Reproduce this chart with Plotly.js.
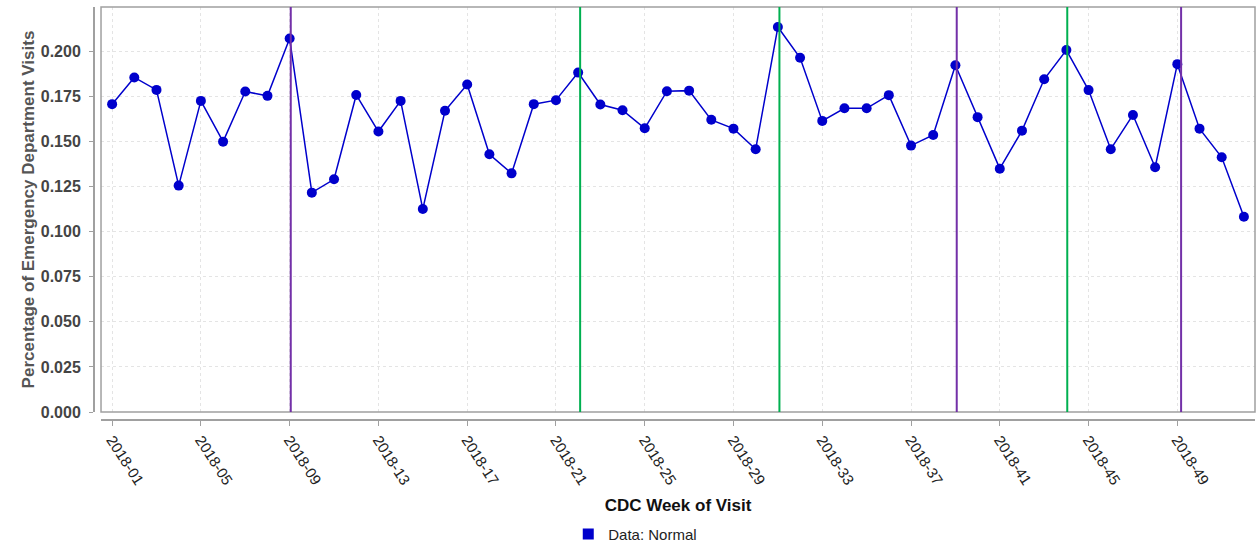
<!DOCTYPE html>
<html>
<head>
<meta charset="utf-8">
<script src="https://cdn.plot.ly/plotly-3.0.1.min.js"></script>
<style>
  html, body { margin: 0; padding: 0; background: #ffffff; }
  #chart { width: 1256px; height: 543px; }
</style>
</head>
<body>
<div id="chart"></div>
<script>
// CDC week number (1..52) of each point
const weekNumbers = [1,2,3,4,5,6,7,8,9,10,11,12,13,14,15,16,17,18,19,20,21,22,23,24,25,26,
  27,28,29,30,31,32,33,34,35,36,37,38,39,40,41,42,43,44,45,46,47,48,49,50,51,52];

// Percentage of ED visits
const pctVisits = [0.1708,0.1856,0.1787,0.1256,0.1726,0.1500,0.1778,0.1754,0.2072,0.1217,
  0.1291,0.1759,0.1556,0.1726,0.1126,0.1671,0.1817,0.1430,0.1324,0.1708,
  0.1730,0.1883,0.1706,0.1674,0.1574,0.1780,0.1783,0.1621,0.1572,0.1458,
  0.2136,0.1965,0.1615,0.1685,0.1685,0.1758,0.1478,0.1537,0.1924,0.1636,
  0.1350,0.1561,0.1846,0.2008,0.1786,0.1458,0.1648,0.1358,0.1930,0.1572,
  0.1413,0.1083];

// x tick positions and labels
const tickWeeks = [1,5,9,13,17,21,25,29,33,37,41,45,49];
const tickLabels = ['2018-01','2018-05','2018-09','2018-13','2018-17','2018-21','2018-25',
  '2018-29','2018-33','2018-37','2018-41','2018-45','2018-49'];

// y ticks
const yTicks = [0,0.025,0.05,0.075,0.1,0.125,0.15,0.175,0.2];

// vertical event markers (week position) and their colours
const eventWeeks = [9.05, 22.09, 31.07, 39.06, 44.04, 49.17];
const eventColors = ['#7330a8', '#00b050', '#00b050', '#7330a8', '#00b050', '#7330a8'];

const seriesColor = '#0000cc';
const axisGray = '#a0a0a0';

const traces = [
  {
    x: weekNumbers, y: pctVisits, type: 'scatter', mode: 'lines+markers',
    line: { color: seriesColor, width: 1.5 },
    marker: { color: seriesColor, size: 10 },
    showlegend: false, hoverinfo: 'skip'
  },
  {
    x: [null], y: [null], type: 'scatter', mode: 'markers',
    marker: { color: seriesColor, symbol: 'square', size: 11 },
    name: 'Data: Normal', showlegend: true, hoverinfo: 'skip'
  }
];

const shapes = [
  { type: 'rect', xref: 'x domain', yref: 'y domain', x0: 0, x1: 1, y0: 0, y1: 1,
    line: { color: axisGray, width: 1.5 }, layer: 'above' }
];
eventWeeks.forEach((w, i) => {
  shapes.push({ type: 'line', xref: 'x', yref: 'y domain', x0: w, x1: w, y0: 0, y1: 1,
    line: { color: eventColors[i], width: 2 }, layer: 'above' });
});

const layout = {
  width: 1256, height: 543,
  margin: { l: 93, r: 1, t: 7, b: 124, pad: 0, autoexpand: false },
  paper_bgcolor: '#ffffff', plot_bgcolor: '#ffffff',
  font: { family: '"Liberation Sans", Arial, sans-serif', color: '#222' },
  showlegend: true,
  legend: {
    orientation: 'h', x: 0.409, xanchor: 'left', y: -0.28, yanchor: 'middle',
    font: { size: 15, color: '#222' }, bgcolor: 'rgba(0,0,0,0)', itemwidth: 30
  },
  xaxis: {
    domain: [0.0069, 1], anchor: 'free', position: 0,
    range: [0.5, 52.5], tickmode: 'array', tickvals: tickWeeks, ticktext: tickLabels,
    tickangle: 57, tickfont: { size: 15, color: '#222' },
    ticks: 'outside', ticklen: 5, tickcolor: axisGray, tickwidth: 1,
    showline: true, linecolor: axisGray, linewidth: 1.5,
    showgrid: true, gridcolor: '#e4e4e4', griddash: '3px,3px', gridwidth: 1,
    zeroline: false, automargin: false,
    title: { text: 'CDC Week of Visit', font: { size: 17, color: '#111', weight: 'bold' }, standoff: 12 }
  },
  yaxis: {
    domain: [0.017, 1], anchor: 'free', position: 0,
    range: [0, 0.2247], tickmode: 'array', tickvals: yTicks, tickformat: '.3f',
    tickfont: { size: 16, color: '#444', weight: 'bold' },
    ticks: 'outside', ticklen: 4, tickcolor: axisGray, tickwidth: 1, ticklabelstandoff: 5,
    showline: true, linecolor: axisGray, linewidth: 1.5,
    showgrid: true, gridcolor: '#e4e4e4', griddash: '3px,3px', gridwidth: 1,
    zeroline: false, automargin: false,
    title: { text: 'Percentage of Emergency Department Visits', font: { size: 17, color: '#555', weight: 'bold' }, standoff: 0 }
  },
  shapes: shapes
};

Plotly.newPlot('chart', traces, layout, { displayModeBar: false, staticPlot: true });
</script>
</body>
</html>
